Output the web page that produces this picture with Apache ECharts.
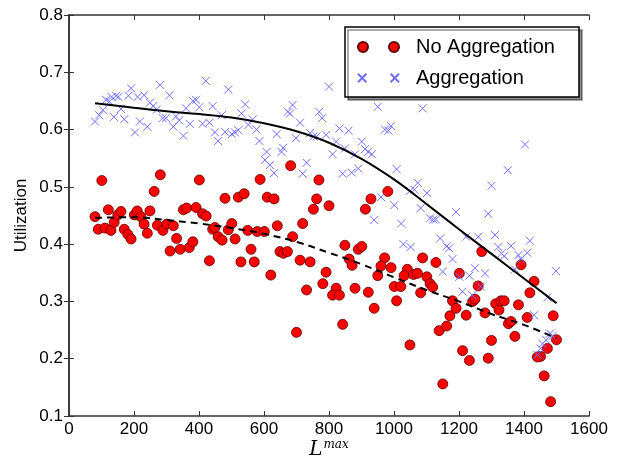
<!DOCTYPE html>
<html>
<head>
<meta charset="utf-8">
<script src="https://cdn.jsdelivr.net/npm/echarts@6/dist/echarts.min.js"></script>
<style>
  html, body { margin: 0; padding: 0; background: #fff; }
  #chart { width: 625px; height: 460px; }
</style>
</head>
<body>
<div id="chart"></div>
<script>
// [L^max, utilization]
const noAggregation = [
  [80,0.448],[101,0.511],[90,0.426],[111,0.428],[121,0.460],[129,0.424],[139,0.438],[150,0.451],[160,0.457],[170,0.426],
  [181,0.417],[191,0.409],[201,0.451],[210,0.458],[221,0.448],[231,0.435],[241,0.419],[249,0.458],[262,0.492],[272,0.433],
  [281,0.521],[289,0.424],[301,0.435],[311,0.388],[321,0.432],[331,0.410],[342,0.391],[352,0.460],[362,0.463],[370,0.394],
  [381,0.404],[391,0.464],[401,0.512],[411,0.453],[422,0.449],[432,0.371],[442,0.426],[449,0.429],[459,0.413],[471,0.407],
  [480,0.480],[490,0.425],[501,0.436],[511,0.409],[521,0.482],[529,0.369],[539,0.488],[550,0.424],[560,0.391],[570,0.369],
  [579,0.422],[588,0.513],[682,0.537],[769,0.512],[610,0.482],[631,0.479],[762,0.479],[752,0.461],[800,0.467],[981,0.492],
  [929,0.479],[912,0.461],[719,0.436],[641,0.432],[601,0.422],[688,0.413],[649,0.387],[660,0.384],[672,0.387],[711,0.372],
  [742,0.369],[621,0.346],[791,0.351],[781,0.331],[849,0.398],[890,0.391],[901,0.396],[862,0.374],[871,0.363],[971,0.376],
  [960,0.362],[991,0.359],[950,0.345],[1041,0.356],[1031,0.345],[1060,0.347],[1072,0.349],[1088,0.376],[1101,0.343],[1111,0.331],
  [1119,0.325],[1129,0.368],[1001,0.326],[1021,0.326],[822,0.323],[880,0.323],[731,0.320],[811,0.311],[832,0.311],[921,0.316],
  [1008,0.301],[939,0.288],[1082,0.315],[700,0.246],[842,0.260],[1049,0.224],[1139,0.249],[1150,0.156],[1162,0.257],[1172,0.275],
  [1180,0.301],[1191,0.288],[1222,0.276],[1242,0.300],[1249,0.304],[1280,0.280],[1313,0.296],[1323,0.285],[1329,0.301],[1339,0.301],
  [1352,0.261],[1360,0.265],[1372,0.239],[1383,0.294],[1410,0.272],[1418,0.315],[1431,0.335],[1490,0.275],[1500,0.233],[1472,0.218],
  [1451,0.204],[1441,0.203],[1462,0.170],[1482,0.125],[1300,0.232],[1290,0.201],[1211,0.214],[1232,0.197],[1270,0.387],[1391,0.364],
  [1201,0.349],[1259,0.327]
]
const aggregation = [
  [80,0.614],[93,0.625],[104,0.634],[114,0.652],[124,0.649],[131,0.657],[145,0.659],[152,0.657],[138,0.622],[160,0.636],
  [170,0.618],[183,0.659],[191,0.672],[203,0.595],[211,0.657],[218,0.614],[231,0.660],[241,0.605],[249,0.647],[259,0.641],
  [270,0.635],[280,0.678],[288,0.620],[298,0.620],[309,0.660],[321,0.605],[329,0.623],[339,0.616],[352,0.589],[360,0.637],
  [372,0.610],[381,0.650],[391,0.652],[401,0.639],[411,0.610],[421,0.685],[432,0.612],[442,0.641],[449,0.595],[459,0.580],
  [470,0.625],[480,0.596],[490,0.670],[501,0.592],[511,0.595],[521,0.599],[531,0.628],[542,0.644],[552,0.608],[565,0.618],
  [577,0.600],[586,0.580],[608,0.561],[639,0.592],[654,0.561],[659,0.568],[673,0.631],[680,0.628],[688,0.643],[698,0.585],
  [711,0.612],[742,0.594],[752,0.588],[762,0.588],[770,0.631],[779,0.620],[791,0.591],[800,0.675],[811,0.557],[822,0.579],
  [832,0.602],[849,0.567],[860,0.598],[880,0.557],[901,0.579],[911,0.566],[921,0.561],[932,0.557],[950,0.640],[972,0.600],
  [983,0.598],[991,0.606],[1088,0.637],[603,0.547],[618,0.538],[631,0.524],[731,0.542],[719,0.523],[842,0.523],[870,0.525],
  [890,0.532],[1008,0.531],[960,0.482],[1001,0.468],[939,0.442],[1022,0.436],[1049,0.493],[1063,0.495],[1073,0.507],[1082,0.463],
  [1101,0.489],[1111,0.445],[1121,0.443],[1129,0.443],[1142,0.410],[1162,0.396],[1029,0.400],[1051,0.395],[1150,0.352],[1403,0.574],
  [1350,0.529],[1300,0.502],[1191,0.456],[1290,0.453],[1170,0.393],[1222,0.413],[1259,0.413],[1311,0.416],[1321,0.395],[1360,0.397],
  [1418,0.406],[1331,0.384],[1339,0.379],[1383,0.381],[1410,0.385],[1180,0.374],[1249,0.358],[1232,0.345],[1201,0.343],[1280,0.349],
  [1390,0.374],[1372,0.356],[1498,0.353],[1267,0.326],[1211,0.317],[1241,0.311],[1472,0.307],[1431,0.276],[1480,0.244],[1488,0.240],
  [1468,0.233],[1457,0.226],[1451,0.218],[1441,0.207]
]
// fitted trend lines
const aggregationFit = [
  [80,0.646],[200,0.638],[300,0.632],[400,0.627],[500,0.621],[600,0.611],[700,0.597],[800,0.577],[900,0.549],
  [1000,0.513],[1100,0.470],[1200,0.426],[1300,0.383],[1400,0.340],[1500,0.297]
]
const noAggregationFit = [
  [80,0.446],[200,0.447],[300,0.442],[400,0.436],[500,0.428],[600,0.418],[700,0.404],[800,0.385],[900,0.365],
  [1000,0.342],[1100,0.320],[1200,0.300],[1300,0.278],[1400,0.259],[1500,0.236]
]

const axisColor = '#333'
const font = 'Liberation Sans'

const chart = echarts.init(document.getElementById('chart'))
chart.setOption({
  animation: false,
  backgroundColor: '#fff',
  grid: { left: 69, right: 36, top: 15, bottom: 44, containLabel: false, outerBoundsMode: 'none' },
  legend: {
    orient: 'vertical',
    left: 345,
    top: 27,
    padding: [9, 24, 8, 12],
    itemGap: 9,
    itemWidth: 41,
    itemHeight: 10,
    borderColor: '#000',
    borderWidth: 1.5,
    backgroundColor: '#fff',
    shadowColor: 'rgba(0,0,0,0.45)',
    shadowOffsetX: 3,
    shadowOffsetY: 3,
    shadowBlur: 0,
    textStyle: { fontFamily: font, fontSize: 20, color: '#000', padding: [0, 0, 0, 12], lineHeight: 22 },
    data: [
      { name: 'No Aggregation', icon: 'path://M0,5a5,5 0 1,0 10,0a5,5 0 1,0 -10,0M31,5a5,5 0 1,0 10,0a5,5 0 1,0 -10,0' },
      { name: 'Aggregation', icon: 'path://M1,1L9,9M9,1L1,9M32,1L40,9M40,1L32,9' }
    ]
  },
  xAxis: [
    {
      type: 'value', min: 0, max: 1600, interval: 200,
      name: '{a|L}{b|max}', nameLocation: 'middle', nameGap: 23, nameMoveOverlap: false,
      nameTextStyle: {
        rich: {
          a: { fontFamily: 'DejaVu Serif', fontStyle: 'italic', fontSize: 20, color: '#000', lineHeight: 22 },
          b: { fontFamily: 'DejaVu Serif', fontStyle: 'italic', fontSize: 12, color: '#000', lineHeight: 22, padding: [0, 0, 10, 1] }
        }
      },
      axisLine: { lineStyle: { color: axisColor, width: 1.5 } },
      axisTick: { inside: true, length: 5, lineStyle: { color: axisColor } },
      axisLabel: { fontFamily: font, fontSize: 17, color: '#000', margin: 5, formatter: v => String(v) },
      splitLine: { show: false }
    },
    {
      type: 'value', min: 0, max: 1600, interval: 200, position: 'top',
      axisLine: { lineStyle: { color: axisColor, width: 1.5 } },
      axisTick: { inside: true, length: 5, lineStyle: { color: axisColor } },
      axisLabel: { show: false },
      splitLine: { show: false }
    }
  ],
  yAxis: [
    {
      type: 'value', min: 0.1, max: 0.8, interval: 0.1,
      name: 'Utilization', nameLocation: 'middle', nameGap: 39, nameMoveOverlap: false,
      nameTextStyle: { fontFamily: font, fontSize: 17, color: '#000' },
      axisLine: { show: true, lineStyle: { color: axisColor, width: 1.5 } },
      axisTick: { show: true, inside: true, length: 5, lineStyle: { color: axisColor } },
      axisLabel: { fontFamily: font, fontSize: 17, color: '#000', margin: 6, formatter: v => v.toFixed(1) },
      splitLine: { show: false }
    },
    {
      type: 'value', min: 0.1, max: 0.8, interval: 0.1, position: 'right',
      axisLine: { show: true, lineStyle: { color: axisColor, width: 1.5 } },
      axisTick: { show: true, inside: true, length: 5, lineStyle: { color: axisColor } },
      axisLabel: { show: false },
      splitLine: { show: false }
    }
  ],
  series: [
    {
      name: 'No Aggregation', type: 'scatter', data: noAggregation,
      symbol: 'circle', symbolSize: 10,
      itemStyle: { color: '#ff0000', borderColor: '#5a0000', borderWidth: 0.8, opacity: 1 },
      z: 3
    },
    {
      name: 'Aggregation', type: 'scatter', data: aggregation,
      symbol: 'path://M0,0L10,10M10,0L0,10', symbolSize: 8,
      itemStyle: { color: 'transparent', borderColor: '#6f6fff', borderWidth: 1, opacity: 1 },
      z: 4
    },
    {
      name: 'aggFit', type: 'line', data: aggregationFit, smooth: 0.4,
      showSymbol: false, lineStyle: { color: '#000', width: 2 }, z: 5, silent: true
    },
    {
      name: 'noAggFit', type: 'line', data: noAggregationFit, smooth: 0.4,
      showSymbol: false, lineStyle: { color: '#000', width: 2, type: [7, 5] }, z: 5, silent: true
    }
  ]
})
</script>
</body>
</html>
